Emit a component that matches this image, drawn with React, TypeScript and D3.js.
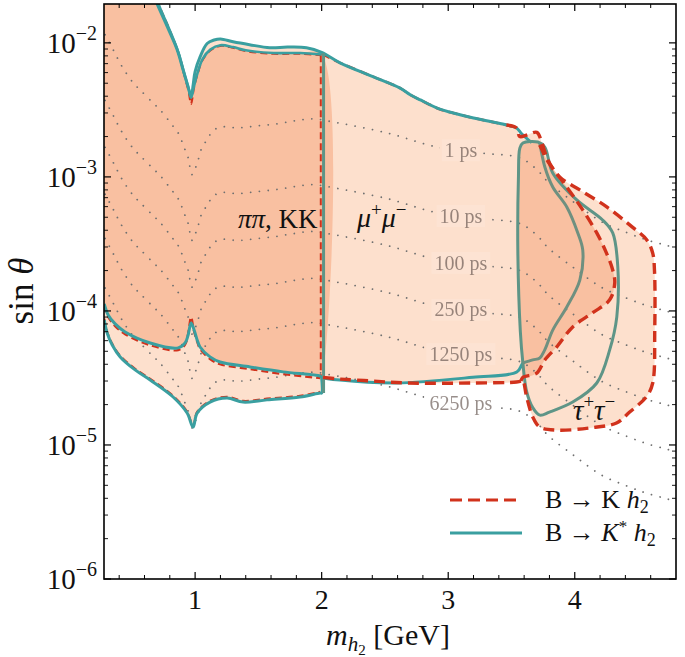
import React from 'react';
import * as d3 from 'd3';

type P = [number, number];

// ---------- data (m_h2 [GeV], sin theta) ----------
const topOuter: P[] = [[0.62,3.0e-2],[0.70,1.95e-2],[0.78,1.32e-2],[0.858,8.9e-3],[0.905,6.3e-3],[0.945,4.7e-3],[0.968,3.95e-3],[0.985,4.9e-3],[1.0,6.1e-3],[1.04,7.9e-3],[1.095,9.9e-3],[1.15,1.05e-2],[1.20,1.07e-2],[1.30,1.02e-2],[1.43,9.7e-3],[1.59,9.2e-3],[1.73,9.3e-3],[1.88,9.2e-3],[2.0,8.5e-3]];
const topInner: P[] = [[0.64,3.0e-2],[0.715,1.9e-2],[0.795,1.27e-2],[0.868,8.5e-3],[0.912,6.0e-3],[0.95,4.5e-3],[0.968,3.9e-3],[0.99,4.7e-3],[1.02,6.0e-3],[1.06,7.6e-3],[1.12,8.9e-3],[1.20,9.6e-3],[1.30,9.3e-3],[1.40,8.8e-3],[1.62,8.4e-3],[1.83,8.4e-3],[2.0,8.2e-3]];
const topRed: P[] = [[0.64,3.0e-2],[0.715,1.9e-2],[0.795,1.27e-2],[0.868,8.4e-3],[0.912,5.9e-3],[0.95,4.3e-3],[0.968,3.5e-3],[0.99,4.6e-3],[1.02,5.9e-3],[1.06,7.5e-3],[1.12,8.8e-3],[1.20,9.5e-3],[1.30,9.2e-3],[1.40,8.7e-3],[1.62,8.3e-3],[1.83,8.3e-3],[1.995,8.1e-3]];
const muTop: P[] = [[2.0,8.3e-3],[2.145,7.1e-3],[2.405,5.6e-3],[2.62,4.6e-3],[2.70,4.1e-3],[2.78,3.75e-3],[2.934,3.2e-3],[3.04,3.0e-3],[3.2,2.75e-3],[3.46,2.44e-3],[3.54,2.32e-3]];
const muTopTealEnd: P[] = [[3.58,2.1e-3],[3.66,1.8e-3]];
const tauOuterRed: P[] = [[3.565,2.0e-3],[3.62,2.05e-3],[3.70,2.15e-3],[3.74,1.8e-3],[3.787,1.34e-3],[3.88,1.0e-3],[4.04,8.0e-4],[4.25,6.0e-4],[4.458,4.2e-4],[4.568,3.4e-4],[4.616,2.7e-4],[4.63,2.0e-4],[4.632,7.2e-5],[4.616,2.9e-5],[4.568,2.3e-5],[4.434,1.76e-5],[4.33,1.46e-5],[4.118,1.34e-5],[3.858,1.29e-5],[3.724,1.36e-5],[3.668,1.62e-5],[3.62,2.28e-5],[3.589,3.05e-5]];
const muBottomRed: P[] = [[3.575,3.0e-5],[3.54,2.95e-5],[3.2,2.9e-5],[2.674,2.9e-5],[2.4,3.0e-5],[2.15,3.1e-5],[2.0,3.2e-5]];
const muBottomTeal: P[] = [[2.0,3.2e-5],[2.145,3.05e-5],[2.595,2.9e-5],[3.195,3.2e-5],[3.542,3.5e-5],[3.58,3.95e-5],[3.59,4.09e-5]];
const tauTealInner: P[] = [[3.59,4.09e-5],[3.668,4.31e-5],[3.724,4.46e-5],[3.763,5.12e-5],[3.826,7.2e-5],[3.937,1.07e-4],[4.04,1.70e-4],[4.063,2.85e-4],[4.024,3.82e-4],[3.937,5.97e-4],[3.826,8.4e-4],[3.763,1.19e-3],[3.724,1.79e-3]];
const tauTealOuter: P[] = [[3.59,1.79e-3],[3.566,1.64e-3],[3.555,1.0e-3],[3.55,2.85e-4],[3.57,7.0e-5],[3.59,4.09e-5],[3.62,2.5e-5],[3.668,1.9e-5],[3.724,1.67e-5],[3.80,1.76e-5],[3.984,2.09e-5],[4.174,2.9e-5],[4.276,5.12e-5],[4.332,9.0e-5],[4.34,2.13e-4],[4.30,3.82e-4],[4.22,4.77e-4],[4.016,6.73e-4],[3.826,1.07e-3],[3.763,1.67e-3],[3.708,1.82e-3]];
const tauRedInner: P[] = [[3.59,3.2e-5],[3.70,3.44e-5],[3.763,4.3e-5],[3.858,5.4e-5],[3.984,7.6e-5],[4.142,9.7e-5],[4.276,1.21e-4],[4.316,1.62e-4],[4.30,2.02e-4],[4.25,2.71e-4],[4.174,3.82e-4],[4.063,5.67e-4],[3.937,8.4e-4],[3.779,1.34e-3],[3.74,1.6e-3],[3.72,1.75e-3]];
const lowerInner: P[] = [[0.282,1.13e-4],[0.313,9.33e-5],[0.368,8.0e-5],[0.447,6.97e-5],[0.645,5.77e-5],[0.866,5.3e-5],[0.921,5.77e-5],[0.945,6.62e-5],[0.968,8.13e-5],[0.992,7.21e-5],[1.016,6.08e-5],[1.039,5.38e-5],[1.118,4.54e-5],[1.197,4.16e-5],[1.434,3.82e-5],[1.695,3.51e-5],[1.987,3.27e-5]];
const lowerInnerRed: P[] = [[0.282,1.1e-4],[0.313,9.0e-5],[0.368,7.7e-5],[0.447,6.7e-5],[0.645,5.55e-5],[0.866,5.1e-5],[0.921,5.6e-5],[0.945,6.8e-5],[0.968,9.0e-5],[0.992,7.0e-5],[1.016,5.9e-5],[1.039,5.2e-5],[1.118,4.38e-5],[1.197,4.0e-5],[1.434,3.68e-5],[1.695,3.38e-5],[1.99,3.15e-5]];
const lowerOuter: P[] = [[0.282,8.57e-5],[0.305,6.85e-5],[0.345,5.57e-5],[0.408,4.54e-5],[0.526,3.63e-5],[0.645,3.05e-5],[0.826,2.28e-5],[0.937,1.73e-5],[0.984,1.36e-5],[1.016,1.73e-5],[1.118,2.09e-5],[1.253,2.24e-5],[1.379,2.09e-5],[1.568,2.17e-5],[1.829,2.28e-5],[1.987,2.44e-5]];

// lifetime contour (1 ps) and the vertical offsets (decades) of the other contours
const lifetimeShape: P[] = [[0.289,1.15e-2],[0.353,8.87e-3],[0.424,6.62e-3],[0.511,5.03e-3],[0.566,4.45e-3],[0.668,3.56e-3],[0.724,3.16e-3],[0.818,2.44e-3],[0.866,2.13e-3],[0.921,1.59e-3],[0.945,1.39e-3],[0.976,1.04e-3],[1.024,1.34e-3],[1.055,1.67e-3],[1.095,1.89e-3],[1.134,2.17e-3],[1.197,2.36e-3],[1.339,2.32e-3],[1.489,2.40e-3],[1.647,2.49e-3],[1.789,2.62e-3],[1.932,2.71e-3],[2.089,2.57e-3],[2.516,2.13e-3],[2.911,1.67e-3],[3.25,1.51e-3],[3.542,1.41e-3],[3.629,1.29e-3],[3.684,1.17e-3],[3.739,1.04e-3],[3.787,9.18e-4],[4.0,6.4e-4],[4.213,4.62e-4],[4.418,3.82e-4],[4.568,3.39e-4],[4.71,3.11e-4],[4.797,2.95e-4]];
const lifetimeOffsets = [0, 0.49, 0.84, 1.19, 1.52, 1.89];
const lifetimeLabels = ['1 ps', '10 ps', '100 ps', '250 ps', '1250 ps', '6250 ps'];
const lifetimeLabelM = 3.10;

const xTicksMajor = [1, 2, 3, 4];
const yTicksMajor = [-6, -5, -4, -3, -2];

const W = 685, H = 657;
const PL = 104, PR = 676, PT = 4, PB = 579;
const TEAL = '#3a9fa0';
const TEAL2 = '#5e9587';
const RED = '#d1321c';
const DARK = '#f9c0a1';
const LIGHT = '#fde0cd';
const FONT = "'Liberation Serif','Times New Roman',serif";

export default function App() {
  const x = d3.scaleLinear().domain([0.28, 4.8]).range([PL, PR]);
  const y = d3.scaleLog().domain([1e-6, 0.0195]).range([PB, PT]);
  const line = d3.line<P>().x(d => x(d[0])).y(d => y(d[1])).curve(d3.curveCatmullRom.alpha(0.5));
  const loop = d3.line<P>().x(d => x(d[0])).y(d => y(d[1])).curve(d3.curveCatmullRomClosed.alpha(0.5));

  const rev = (a: P[]) => a.slice().reverse();
  const lightPoly: P[] = [[0.25, 0.05], ...topOuter, ...muTop.slice(1), ...tauOuterRed, ...muBottomRed, [2.0, 2.44e-5], ...rev(lowerOuter), [0.25, 8.57e-5]];
  const darkPoly: P[] = [[0.25, 0.05], ...topInner, [2.0, 3.27e-5], ...rev(lowerInner), [0.25, 1.13e-4]];
  const tauDark: P[] = [[3.59, 1.79e-3], [3.566, 1.64e-3], [3.555, 1.0e-3], [3.55, 2.85e-4], [3.57, 7.0e-5], [3.585, 3.4e-5], ...tauRedInner, [3.708, 1.82e-3]];

  const lifeLines = lifetimeOffsets.map(o => lifetimeShape.map(([m, s]) => [m, s * Math.pow(10, -o)] as P));
  const interpLog = (arr: P[], m: number) => {
    for (let i = 0; i < arr.length - 1; i++) {
      const [m0, s0] = arr[i], [m1, s1] = arr[i + 1];
      if (m >= m0 && m <= m1) {
        const t = (m - m0) / (m1 - m0);
        return Math.pow(10, Math.log10(s0) + t * (Math.log10(s1) - Math.log10(s0)));
      }
    }
    return arr[arr.length - 1][1];
  };
  const labelPos = lifeLines.map((l, i) => {
    const w = lifetimeLabels[i].length * 10.3 - 9;
    return { x: x(lifetimeLabelM), y: y(interpLog(l, lifetimeLabelM)), w, text: lifetimeLabels[i] };
  });

  const xMinor = d3.range(0.4, 4.8, 0.2).filter(v => Math.abs(v - Math.round(v)) > 1e-6);
  const yMinor: number[] = [];
  for (let k = -6; k <= -2; k++) for (let j = 2; j <= 9; j++) { const v = j * Math.pow(10, k); if (v < 0.0195) yMinor.push(v); }

  return (
    <svg width={W} height={H} style={{ position: 'absolute', left: 0, top: 0, background: '#fff' }} fontFamily={FONT}>
      <defs>
        <clipPath id="plotclip"><rect x={PL} y={PT} width={PR - PL} height={PB - PT} /></clipPath>
        <mask id="labelmask" maskUnits="userSpaceOnUse" x={0} y={0} width={W} height={H}>
          <rect x={0} y={0} width={W} height={H} fill="#fff" />
          {labelPos.map((p, i) => <rect key={i} x={p.x - p.w / 2 - 5} y={p.y - 10} width={p.w + 10} height={20} fill="#000" />)}
        </mask>
      </defs>
      <g clipPath="url(#plotclip)">
        <path d={line(lightPoly)! + 'Z'} fill={LIGHT} />
        <path d={line(darkPoly)! + 'Z'} fill={DARK} />
        <path d={line(tauDark)! + 'Z'} fill={DARK} />
        <g mask="url(#labelmask)">
          {lifeLines.map((l, i) => (
            <path key={i} d={line(l)!} fill="none" stroke="#707070" strokeWidth={1.8} strokeDasharray="0.01 8.8" strokeLinecap="round" />
          ))}
        </g>
        {labelPos.map((p, i) => (
          <g key={i}>
            <rect x={p.x - p.w / 2 - 3} y={p.y - 11} width={p.w + 6} height={22} fill="#fff" opacity={0.12} />
            <text x={p.x} y={p.y} dy="0.33em" textAnchor="middle" fontSize={20} fill="#5a4a44" opacity={0.62}>{p.text}</text>
          </g>
        ))}
        {/* red dashed (B -> K h2), under teal */}
        <path d={line(topRed)!} fill="none" stroke={RED} strokeWidth={2.2} strokeDasharray="7 4" />
        <path d={line([[1.993, 8.1e-3], [1.993, 3.2e-5]])!} fill="none" stroke={RED} strokeWidth={2} strokeDasharray="7 4" />
        <path d={line(lowerInnerRed)!} fill="none" stroke={RED} strokeWidth={2.2} strokeDasharray="7 4" />
        <path d={line(lowerOuter.map(([m, s]) => [m, s * 1.02] as P))!} fill="none" stroke={RED} strokeWidth={2.2} strokeDasharray="7 4" />
        <path d={line(muTop)!} fill="none" stroke={RED} strokeWidth={2.6} strokeDasharray="9 5" />
        {/* teal (B -> K* h2) */}
        <path d={line([...topOuter, ...muTop.slice(1), ...muTopTealEnd])!} fill="none" stroke={TEAL} strokeWidth={3} />
        <path d={line(topInner)!} fill="none" stroke={TEAL} strokeWidth={2.6} />
        <path d={line([...lowerInner, ...muBottomTeal])!} fill="none" stroke={TEAL} strokeWidth={3} />
        <path d={line([...lowerOuter, [2.0, 2.44e-5], [2.0, 3.16e-5]])!} fill="none" stroke={TEAL} strokeWidth={3} />
        <path d={line([[2.015, 8.4e-3], [2.015, 2.44e-5]])!} fill="none" stroke={TEAL2} strokeWidth={3} />
        <path d={loop(tauTealOuter)!} fill="none" stroke={TEAL2} strokeWidth={3} />
        <path d={line(tauTealInner)!} fill="none" stroke="#6f9080" strokeWidth={3} />
        {/* red dashed, tau region on top */}
        <path d={line([...muTop.slice(-2), ...tauOuterRed, ...muBottomRed])!} fill="none" stroke={RED} strokeWidth={3.4} strokeDasharray="11 6" />
        <path d={line([[3.575, 3.0e-5], ...tauRedInner])!} fill="none" stroke={RED} strokeWidth={3.4} strokeDasharray="11 6" />
      </g>

      {/* region labels */}
      <text x={238} y={228} fontSize={27} fill="#111"><tspan fontStyle="italic">ππ</tspan>, KK</text>
      <text x={357} y={227} fontSize={28} fill="#111">
        <tspan fontStyle="italic">μ</tspan><tspan fontSize={19} dy={-11}>+</tspan><tspan fontStyle="italic" dy={11}>μ</tspan><tspan fontSize={19} dy={-11}>−</tspan>
      </text>
      <text x={573} y={420} fontSize={29} fill="#111">
        <tspan fontStyle="italic">τ</tspan><tspan fontSize={19} dy={-12}>+</tspan><tspan fontStyle="italic" dy={12}>τ</tspan><tspan fontSize={19} dy={-12}>−</tspan>
      </text>

      {/* frame and ticks */}
      <rect x={PL} y={PT} width={PR - PL} height={PB - PT} fill="none" stroke="#000" strokeWidth={1.6} />
      {xTicksMajor.map(v => (
        <g key={'xm' + v}>
          <line x1={x(v)} x2={x(v)} y1={PB} y2={PB - 7} stroke="#000" strokeWidth={1.2} />
          <line x1={x(v)} x2={x(v)} y1={PT} y2={PT + 7} stroke="#000" strokeWidth={1.2} />
          <text x={x(v)} y={609} fontSize={28} textAnchor="middle" fill="#111">{v}</text>
        </g>
      ))}
      {xMinor.map((v, i) => (
        <g key={'xn' + i}>
          <line x1={x(v)} x2={x(v)} y1={PB} y2={PB - 4} stroke="#000" strokeWidth={1} />
          <line x1={x(v)} x2={x(v)} y1={PT} y2={PT + 4} stroke="#000" strokeWidth={1} />
        </g>
      ))}
      {yTicksMajor.map(k => (
        <g key={'ym' + k}>
          <line x1={PL} x2={PL + 7} y1={y(Math.pow(10, k))} y2={y(Math.pow(10, k))} stroke="#000" strokeWidth={1.2} />
          <line x1={PR} x2={PR - 7} y1={y(Math.pow(10, k))} y2={y(Math.pow(10, k))} stroke="#000" strokeWidth={1.2} />
          <text x={97} y={y(Math.pow(10, k)) + 10} fontSize={29} textAnchor="end" fill="#111">10<tspan fontSize={20} dy={-13}>{'−' + Math.abs(k)}</tspan></text>
        </g>
      ))}
      {yMinor.map((v, i) => (
        <g key={'yn' + i}>
          <line x1={PL} x2={PL + 4} y1={y(v)} y2={y(v)} stroke="#000" strokeWidth={0.9} />
          <line x1={PR} x2={PR - 4} y1={y(v)} y2={y(v)} stroke="#000" strokeWidth={0.9} />
        </g>
      ))}

      {/* axis labels */}
      <text transform="translate(33,291) rotate(-90)" fontSize={35} textAnchor="middle" fill="#111">sin <tspan fontStyle="italic">θ</tspan></text>
      <text x={388} y={645} fontSize={30} textAnchor="middle" fill="#111">
        <tspan fontStyle="italic">m</tspan><tspan fontStyle="italic" fontSize={21} dy={6}>h</tspan><tspan fontSize={15} dy={4}>2</tspan><tspan dy={-10}> [GeV]</tspan>
      </text>

      {/* legend */}
      <line x1={450} x2={522} y1={500} y2={500} stroke={RED} strokeWidth={3.2} strokeDasharray="12 6" />
      <text x={545} y={508} fontSize={26} fill="#111">B → K <tspan fontStyle="italic">h</tspan><tspan fontSize={18} dy={5}>2</tspan></text>
      <line x1={450} x2={522} y1={533} y2={533} stroke={TEAL} strokeWidth={3} />
      <text x={545} y={541} fontSize={26} fill="#111">B → <tspan fontStyle="italic">K</tspan><tspan fontSize={17} dy={-9}>*</tspan><tspan dy={9}> </tspan><tspan fontStyle="italic">h</tspan><tspan fontSize={18} dy={5}>2</tspan></text>
    </svg>
  );
}
